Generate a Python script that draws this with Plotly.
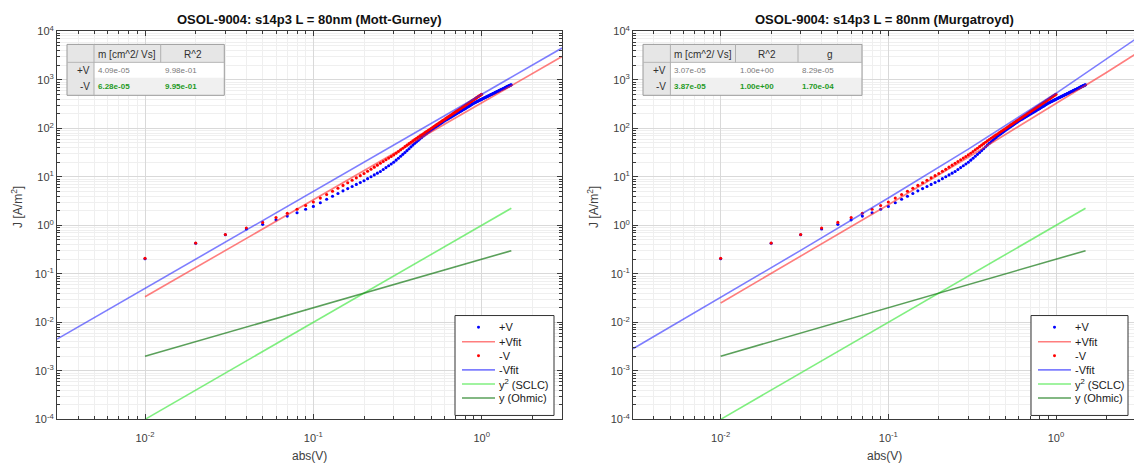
import plotly.graph_objects as go

W, H = 1134, 469

# ---------------- measured data ----------------
V_neg = [0.01, 0.02, 0.03, 0.04, 0.05, 0.06, 0.07, 0.08, 0.09, 0.10,
         0.11, 0.12, 0.13, 0.14, 0.15, 0.16, 0.17, 0.18, 0.19, 0.20,
         0.21, 0.22, 0.23, 0.24, 0.25, 0.26, 0.27, 0.28, 0.29, 0.30,
         0.31, 0.32, 0.33, 0.34, 0.35, 0.36, 0.37, 0.38, 0.39, 0.40,
         0.41, 0.42, 0.43, 0.44, 0.45, 0.46, 0.47, 0.48, 0.49, 0.50,
         0.51, 0.52, 0.53, 0.54, 0.55, 0.56, 0.57, 0.58, 0.59, 0.60,
         0.61, 0.62, 0.63, 0.64, 0.65, 0.66, 0.67, 0.68, 0.69, 0.70,
         0.71, 0.72, 0.73, 0.74, 0.75, 0.76, 0.77, 0.78, 0.79, 0.80,
         0.81, 0.82, 0.83, 0.84, 0.85, 0.86, 0.87, 0.88, 0.89, 0.90,
         0.91, 0.92, 0.93, 0.94, 0.95, 0.96, 0.97, 0.98, 0.99, 1.00]
J_neg = [0.209, 0.431, 0.646, 0.881, 1.148, 1.445, 1.778, 2.138, 2.570, 3.020,
         3.639, 4.305, 5.035, 5.821, 6.653, 7.551, 8.492, 9.506, 10.57, 11.67,
         12.97, 14.35, 15.81, 17.38, 18.97, 20.70, 22.44, 24.32, 26.24, 28.25,
         30.69, 33.27, 35.97, 38.90, 41.88, 44.98, 48.19, 51.64, 55.08, 58.88,
         62.37, 65.92, 69.66, 73.62, 77.45, 81.66, 85.90, 90.16, 94.62, 99.31,
         104.0, 108.9, 113.8, 118.9, 124.2, 129.4, 134.9, 140.3, 146.2, 152.1,
         158.1, 164.1, 170.2, 176.6, 183.2, 190.1, 196.8, 203.7, 210.9, 218.3,
         225.4, 232.8, 240.4, 248.3, 256.4, 264.2, 272.9, 281.2, 289.7, 297.8,
         306.9, 315.5, 325.1, 334.2, 343.6, 353.2, 363.1, 372.4, 382.8, 392.6,
         402.7, 413.0, 423.6, 434.5, 445.6, 457.1, 467.7, 478.6, 489.8, 502.3]

V_pos = [0.01, 0.02, 0.03, 0.04, 0.05, 0.06, 0.07, 0.08, 0.09, 0.10,
         0.11, 0.12, 0.13, 0.14, 0.15, 0.16, 0.17, 0.18, 0.19, 0.20,
         0.21, 0.22, 0.23, 0.24, 0.25, 0.26, 0.27, 0.28, 0.29, 0.30,
         0.31, 0.32, 0.33, 0.34, 0.35, 0.36, 0.37, 0.38, 0.39, 0.40,
         0.41, 0.42, 0.43, 0.44, 0.45, 0.46, 0.47, 0.48, 0.49, 0.50,
         0.51, 0.52, 0.53, 0.54, 0.55, 0.56, 0.57, 0.58, 0.59, 0.60,
         0.61, 0.62, 0.63, 0.64, 0.65, 0.66, 0.67, 0.68, 0.69, 0.70,
         0.71, 0.72, 0.73, 0.74, 0.75, 0.76, 0.77, 0.78, 0.79, 0.80,
         0.81, 0.82, 0.83, 0.84, 0.85, 0.86, 0.87, 0.88, 0.89, 0.90,
         0.91, 0.92, 0.93, 0.94, 0.95, 0.96, 0.97, 0.98, 0.99, 1.00,
         1.01, 1.02, 1.03, 1.04, 1.05, 1.06, 1.07, 1.08, 1.09, 1.10,
         1.11, 1.12, 1.13, 1.14, 1.15, 1.16, 1.17, 1.18, 1.19, 1.20,
         1.21, 1.22, 1.23, 1.24, 1.25, 1.26, 1.27, 1.28, 1.29, 1.30,
         1.31, 1.32, 1.33, 1.34, 1.35, 1.36, 1.37, 1.38, 1.39, 1.40,
         1.41, 1.42, 1.43, 1.44, 1.45, 1.46, 1.47, 1.48, 1.49, 1.50]
J_pos = [0.204, 0.427, 0.638, 0.841, 1.047, 1.297, 1.549, 1.820, 2.138, 2.455,
         2.924, 3.436, 3.981, 4.539, 5.129, 5.715, 6.324, 6.966, 7.638, 8.318,
         9.162, 10.02, 10.94, 11.89, 12.88, 14.16, 15.49, 16.90, 18.41, 19.95,
         22.03, 24.21, 26.55, 29.04, 31.62, 34.67, 37.93, 41.40, 45.08, 48.98,
         52.60, 56.49, 60.53, 64.86, 69.18, 73.28, 77.62, 81.85, 86.50, 91.20,
         95.72, 100.2, 105.0, 109.6, 114.6, 119.7, 125.0, 130.3, 135.8, 141.3,
         146.2, 151.4, 156.3, 161.8, 167.1, 172.2, 177.8, 183.2, 189.2, 195.0,
         200.9, 206.5, 212.8, 218.8, 224.9, 231.2, 237.7, 243.8, 250.6, 257.0,
         264.2, 271.0, 278.0, 285.8, 293.1, 300.6, 307.6, 315.5, 323.6, 331.1,
         337.3, 344.4, 350.8, 357.3, 363.9, 370.7, 377.6, 384.6, 390.8, 398.1,
         404.6, 412.1, 418.8, 425.6, 432.5, 439.5, 446.7, 453.9, 461.3, 467.7,
         475.3, 483.1, 489.8, 497.7, 504.7, 512.9, 520.0, 527.2, 534.6, 543.3,
         550.8, 558.5, 566.2, 574.1, 582.1, 590.2, 597.0, 605.3, 613.8, 622.3,
         629.5, 638.3, 647.1, 654.6, 663.7, 671.4, 679.2, 688.7, 696.6, 704.7,
         714.5, 722.8, 731.1, 739.6, 748.2, 756.8, 765.6, 774.5, 783.4, 792.5]

# Mott-Gurney fits (straight V^2 lines on log-log)
mg_pos_V = [0.01, 3.0]
mg_pos_J = [0.0336, 3024.0]
mg_neg_V = [0.003, 3.0]
mg_neg_J = [0.00451, 4509.0]

# Murgatroyd fits (slightly curved)
mu_pos_V = [0.01, 0.03, 0.1, 0.3, 1.0, 2.0, 3.0]
mu_pos_J = [0.02508, 0.2300, 2.654, 25.37, 317.2, 1414.0, 3456.0]
mu_neg_V = [0.003, 0.01, 0.03, 0.1, 0.3, 1.0, 2.0, 3.0]
mu_neg_J = [0.002858, 0.03253, 0.3044, 3.652, 37.21, 526.9, 2631.0, 7019.0]

# Reference slopes
ref_V = [0.01, 1.5]
sclc_J = [0.0001, 2.25]
ohm_J = [0.002, 0.3]

titles = ["OSOL-9004: s14p3 L = 80nm (Mott-Gurney)",
          "OSOL-9004: s14p3 L = 80nm (Murgatroyd)"]
mg_table = {"cols": ["m [cm^2/ Vs]", "R^2"],
            "+V": ["4.09e-05", "9.98e-01"],
            "-V": ["6.28e-05", "9.95e-01"]}
mu_table = {"cols": ["m [cm^2/ Vs]", "R^2", "g"],
            "+V": ["3.07e-05", "1.00e+00", "8.29e-05"],
            "-V": ["3.87e-05", "1.00e+00", "1.70e-04"]}
legend_labels = ["+V", "+Vfit", "-V", "-Vfit", "y<sup>2</sup> (SCLC)", "y (Ohmic)"]

x_major = [0.01, 0.1, 1]
x_major_txt = ["10<sup>-2</sup>", "10<sup>-1</sup>", "10<sup>0</sup>"]
y_major = [1e-4, 1e-3, 1e-2, 1e-1, 1, 10, 100, 1000, 10000]
y_major_txt = ["10<sup>-4</sup>", "10<sup>-3</sup>", "10<sup>-2</sup>", "10<sup>-1</sup>",
               "10<sup>0</sup>", "10<sup>1</sup>", "10<sup>2</sup>", "10<sup>3</sup>", "10<sup>4</sup>"]

# ---------------- styling ----------------
FONT = "Liberation Sans, Arial, sans-serif"
AX = "#3a3a3a"
TXT = "#404040"
C_DOT_BLUE = "#0000ff"
C_DOT_RED = "#ff0000"
C_FIT_RED = "rgba(255,40,40,0.6)"
C_FIT_BLUE = "rgba(40,40,255,0.6)"
C_SCLC = "rgba(60,230,60,0.65)"
C_OHM = "rgba(20,120,20,0.7)"
LW = 1.6

def px(x):
    return x / W

def py(y):
    return 1 - y / H

minor_x = [m * 10.0 ** e for e in range(-3, 1) for m in range(2, 10)]
minor_y = [m * 10.0 ** e for e in range(-4, 4) for m in range(2, 10)]

fig = go.Figure()

panels = [
    dict(xa="x", ya="y", fits=(mg_pos_V, mg_pos_J, mg_neg_V, mg_neg_J)),
    dict(xa="x2", ya="y2", fits=(mu_pos_V, mu_pos_J, mu_neg_V, mu_neg_J)),
]
for p in panels:
    pv, pj, nv, nj = p["fits"]
    common = dict(xaxis=p["xa"], yaxis=p["ya"], showlegend=False, hoverinfo="skip")
    fig.add_trace(go.Scatter(x=V_pos, y=J_pos, mode="markers",
                             marker=dict(color=C_DOT_BLUE, size=3.1, line=dict(width=0)), **common))
    fig.add_trace(go.Scatter(x=pv, y=pj, mode="lines", line=dict(color=C_FIT_RED, width=LW), **common))
    fig.add_trace(go.Scatter(x=V_neg, y=J_neg, mode="markers",
                             marker=dict(color=C_DOT_RED, size=3.1, line=dict(width=0)), **common))
    fig.add_trace(go.Scatter(x=nv, y=nj, mode="lines", line=dict(color=C_FIT_BLUE, width=LW), **common))
    fig.add_trace(go.Scatter(x=ref_V, y=sclc_J, mode="lines", line=dict(color=C_SCLC, width=LW), **common))
    fig.add_trace(go.Scatter(x=ref_V, y=ohm_J, mode="lines", line=dict(color=C_OHM, width=LW), **common))

def xaxis_style(domain, rng, mirror):
    return dict(type="log", domain=domain, range=rng, anchor=None,
                showline=True, linecolor=AX, linewidth=1, mirror=mirror,
                ticks="inside", ticklen=5, tickcolor=AX,
                tickmode="array", tickvals=x_major, ticktext=x_major_txt,
                tickfont=dict(family=FONT, size=11, color=TXT), ticklabelstandoff=8,
                showgrid=True, gridcolor="#d9d9d9", gridwidth=1,
                minor=dict(tickmode="array", tickvals=minor_x, ticks="inside", ticklen=3,
                           tickcolor=AX, showgrid=True, gridcolor="#efefef", gridwidth=1),
                zeroline=False, fixedrange=True)

def yaxis_style(mirror):
    return dict(type="log", domain=[py(424), py(24)], range=[-4, 4],
                showline=True, linecolor=AX, linewidth=1, mirror=mirror,
                ticks="inside", ticklen=5, tickcolor=AX,
                tickmode="array", tickvals=y_major, ticktext=y_major_txt,
                tickfont=dict(family=FONT, size=11, color=TXT),
                showgrid=True, gridcolor="#d9d9d9", gridwidth=1,
                minor=dict(tickmode="array", tickvals=minor_y, ticks="inside", ticklen=3,
                           tickcolor=AX, showgrid=True, gridcolor="#efefef", gridwidth=1),
                zeroline=False, fixedrange=True)

xa1 = xaxis_style([px(57), px(562)], [-2.5229, 0.4771], "ticks")
xa1["anchor"] = "y"
xa2 = xaxis_style([px(633), 1.0], [-2.5229, 0.4652], "ticks")
xa2["anchor"] = "y2"
ya1 = yaxis_style("ticks")
ya1["anchor"] = "x"
ya2 = yaxis_style(False)
ya2["anchor"] = "x2"

shapes = []
annotations = []

def text(x, y, s, size=11, color=TXT, xanchor="center", yanchor="middle", bold=False, angle=0):
    annotations.append(dict(x=px(x), y=py(y), xref="paper", yref="paper", text=("<b>%s</b>" % s) if bold else s,
                            showarrow=False, xanchor=xanchor, yanchor=yanchor, textangle=angle,
                            font=dict(family=FONT, size=size, color=color)))

def rect(x0, y0, x1, y1, fill, line=None, width=1):
    shapes.append(dict(type="rect", xref="paper", yref="paper", x0=px(x0), x1=px(x1), y0=py(y1), y1=py(y0),
                       fillcolor=fill, line=dict(color=line or "rgba(0,0,0,0)", width=width if line else 0),
                       layer="above"))

def hline(x0, x1, y, color, width=1, dash=None):
    shapes.append(dict(type="line", xref="paper", yref="paper", x0=px(x0), x1=px(x1), y0=py(y), y1=py(y),
                       line=dict(color=color, width=width, dash=dash), layer="above"))

def vline(x, y0, y1, color, width=1):
    shapes.append(dict(type="line", xref="paper", yref="paper", x0=px(x), x1=px(x), y0=py(y0), y1=py(y1),
                       line=dict(color=color, width=width), layer="above"))

# titles and axis labels
for cx, t in zip([309.5, 884.5], titles):
    text(cx, 12, t, size=13, color="#111111", bold=True)
for cx in [309.5, 884.5]:
    text(cx, 462, "abs(V)", size=12)
text(17, 205, "J [A/m<sup>2</sup>]", size=12, angle=-90)
text(593, 205, "J [A/m<sup>2</sup>]", size=12, angle=-90)

# fit-parameter tables
GREEN = "#1f9a1f"
def draw_table(x_edges, tbl):
    y0, y1, y2, y3 = 37.5, 56, 72, 90
    rect(x_edges[0], y0, x_edges[-1], y3, "#ffffff")
    rect(x_edges[0], y0, x_edges[-1], y1, "#e6e6e6")
    rect(x_edges[0], y1, x_edges[1], y3, "#e6e6e6")
    rect(x_edges[1], y2, x_edges[-1], y3, "#f0f0f0")
    rect(x_edges[0], y0, x_edges[-1], y3, "rgba(0,0,0,0)", line="#9a9a9a", width=1)
    hline(x_edges[0], x_edges[-1], y1, "#b5b5b5")
    for xe in x_edges[1:-1]:
        vline(xe, y0, y3 if xe == x_edges[1] else y1, "#b0b0b0")
    for i, c in enumerate(tbl["cols"]):
        text((x_edges[i + 1] + x_edges[i + 2]) / 2, (y0 + y1) / 2 + 1, c, size=10, color="#303030")
    text(x_edges[1] - 2, (y1 + y2) / 2, "+V", size=10, color="#303030", xanchor="right")
    text(x_edges[1] - 2, (y2 + y3) / 2, "-V", size=10, color="#303030", xanchor="right")
    for i, v in enumerate(tbl["+V"]):
        text(x_edges[i + 1] + 2, (y1 + y2) / 2, v, size=8, color="#7a7a7a", xanchor="left")
    for i, v in enumerate(tbl["-V"]):
        text(x_edges[i + 1] + 2, (y2 + y3) / 2, v, size=8, color=GREEN, xanchor="left", bold=True)

draw_table([67, 94, 160.7, 224.3], mg_table)
draw_table([643, 670.4, 735.5, 798, 862], mu_table)

# legends
def draw_legend(x0, x1):
    top, bot = 317, 420
    rect(x0, top, x1, bot, "#ffffff", line="#333333", width=1)
    ys = [329, 344, 358.5, 373, 387.5, 402]
    sx0, sx1 = x0 + 7, x0 + 40
    styles = [("dot", C_DOT_BLUE), ("line", C_FIT_RED), ("dot", C_DOT_RED),
              ("line", C_FIT_BLUE), ("line", C_SCLC), ("line", C_OHM)]
    for yy, (kind, col), lab in zip(ys, styles, legend_labels):
        if kind == "line":
            hline(sx0, sx1, yy, col, width=LW)
        else:
            cx = (sx0 + sx1) / 2
            shapes.append(dict(type="circle", xref="paper", yref="paper",
                               x0=px(cx - 1.5), x1=px(cx + 1.5), y0=py(yy + 1.5), y1=py(yy - 1.5),
                               fillcolor=col, line=dict(width=0), layer="above"))
        text(sx1 + 2, yy, lab, size=11, color="#202020", xanchor="left")

draw_legend(455, 554)
draw_legend(1031, 1128)

fig.update_layout(
    width=W, height=H,
    margin=dict(l=0, r=0, t=0, b=0),
    paper_bgcolor="#ffffff", plot_bgcolor="#ffffff",
    xaxis=xa1, yaxis=ya1, xaxis2=xa2, yaxis2=ya2,
    shapes=shapes, annotations=annotations,
    showlegend=False,
    font=dict(family=FONT, color=TXT),
)

fig.write_html("out.html")
